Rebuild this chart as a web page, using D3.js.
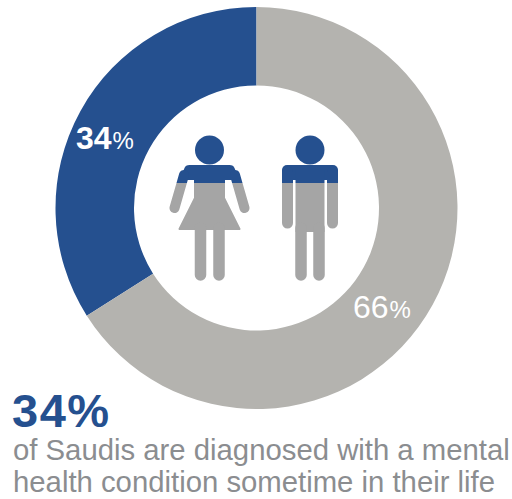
<!DOCTYPE html>
<html><head><meta charset="utf-8">
<script src="https://cdn.jsdelivr.net/npm/d3@7/dist/d3.min.js"></script>
<style>html,body{margin:0;padding:0;background:#fff}svg{display:block}text{font-family:"Liberation Sans",Arial,sans-serif}</style>
</head><body><svg id="c" width="512" height="499"></svg>
<script>
const categories = ["Diagnosed", "Not diagnosed"];
const shares = [34, 66];
const sliceColors = ["#25508f", "#b4b3af"];
const figureGrey = "#a5a5a5";
const headline = "34%";
const captionLines = ["of Saudis are diagnosed with a mental", "health condition sometime in their life"];

const svg = d3.select("#c");
const cx = 256.5, cy = 208, outer = 201, inner = 122.5;
const ring = svg.append("g").attr("transform", `translate(${cx},${cy})`);
const pie = d3.pie().sort(null).value(d => d.v).startAngle(2 * Math.PI).endAngle(0);
const rows = categories.map((c, i) => ({c, v: shares[i], color: sliceColors[i]}));
const arc = d3.arc().innerRadius(inner).outerRadius(outer);
ring.selectAll("path").data(pie(rows)).join("path").attr("d", arc).attr("fill", d => d.data.color);

// value labels: heavier number with a smaller percent sign
const labelPos = [[76, 149], [353, 318]];
const labelWeights = [700, 400];
rows.forEach((r, i) => {
  const t = svg.append("text").attr("x", labelPos[i][0]).attr("y", labelPos[i][1]).attr("fill", "#fff");
  t.append("tspan").attr("font-size", 32).attr("font-weight", labelWeights[i]).text(r.v);
  t.append("tspan").attr("font-size", 24).attr("dx", 1).text("%");
});

// figures: grey body with the top band in the highlight colour
const bandEnd = 183;
const defs = svg.append("defs");
function figure(id, x, draw) {
  const g = svg.append("g").attr("transform", `translate(${x},0)`);
  defs.append("clipPath").attr("id", id + "b").append("rect")
    .attr("x", -60).attr("y", 100).attr("width", 120).attr("height", bandEnd - 100);
  defs.append("clipPath").attr("id", id + "g").append("rect")
    .attr("x", -60).attr("y", bandEnd).attr("width", 120).attr("height", 120);
  draw(g.append("g").attr("clip-path", `url(#${id}b)`).attr("fill", sliceColors[0]).attr("stroke", sliceColors[0]));
  draw(g.append("g").attr("clip-path", `url(#${id}g)`).attr("fill", figureGrey).attr("stroke", figureGrey));
}
function limb(g, x1, y1, x2, y2, w) {
  g.append("line").attr("x1", x1).attr("y1", y1).attr("x2", x2).attr("y2", y2)
    .attr("stroke-width", w).attr("stroke-linecap", "round");
}
function legs(g, a, b) {
  limb(g, a, 228, a, 275, 11.5);
  limb(g, b, 228, b, 275, 11.5);
}
// woman: rounded shoulders, slanted arms, flared skirt
figure("f", 209.5, g => {
  g.append("circle").attr("cy", 150).attr("r", 14.5).attr("stroke", "none");
  g.append("path").attr("stroke", "none")
    .attr("d", "M-30,180 L-25,168 Q-24,165 -20,165 L20,165 Q24,165 25,168 L30,180 L14,180 L14,178 L-14,178 L-14,180 Z");
  limb(g, -25.5, 175, -35, 208, 10);
  limb(g, 25.5, 175, 35, 208, 10);
  g.append("path").attr("stroke-width", 2).attr("stroke-linejoin", "round")
    .attr("d", "M-14.5,170 L14.5,170 L14.5,198 L30,229 L-30,229 L-14.5,198 Z");
  legs(g, -9, 9.5);
});
// man: square shoulders, straight arms and torso
figure("m", 310, g => {
  g.append("circle").attr("cy", 150).attr("r", 14.5).attr("stroke", "none");
  g.append("rect").attr("x", -28).attr("y", 165).attr("width", 56).attr("height", 15).attr("rx", 5).attr("stroke", "none");
  g.append("rect").attr("x", -14.5).attr("y", 170).attr("width", 29).attr("height", 62).attr("stroke", "none");
  limb(g, -22.5, 172, -22.5, 223, 11);
  limb(g, 22.5, 172, 22.5, 223, 11);
  legs(g, -9, 9);
});

svg.append("text").attr("x", 12).attr("y", 427).attr("font-size", 47).attr("letter-spacing", 1.5).attr("font-weight", 700).attr("fill", sliceColors[0]).text(headline);
captionLines.forEach((l, i) => svg.append("text").attr("x", 13).attr("y", 460 + i * 32).attr("font-size", 29.3).attr("fill", "#8b8d90").text(l));
</script></body></html>
